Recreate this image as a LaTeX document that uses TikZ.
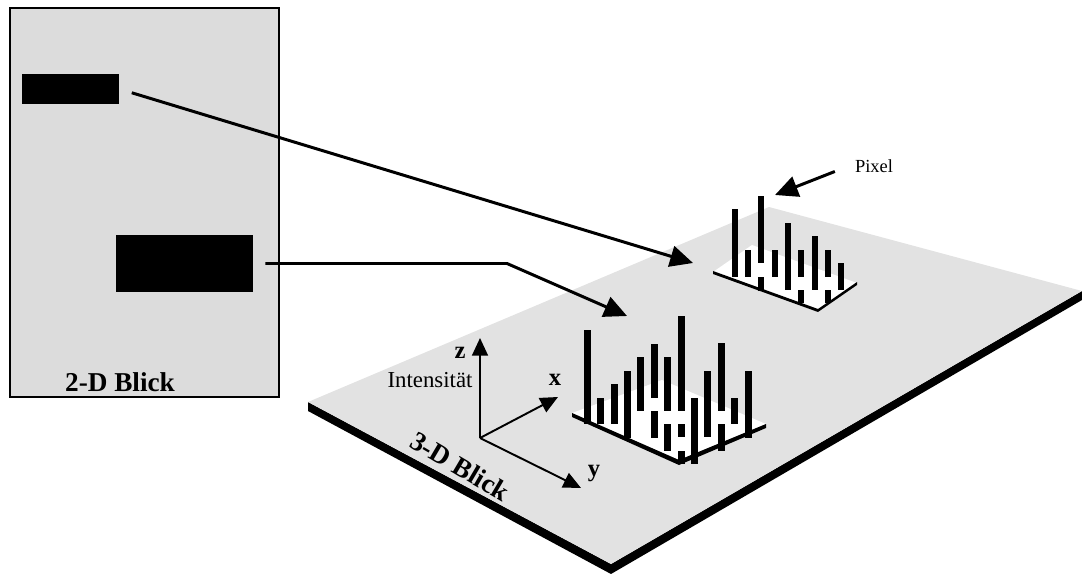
\documentclass[tikz,border=0pt]{standalone}
\usepackage{fontspec}
\setmainfont{Liberation Serif}
\usetikzlibrary{arrows.meta, positioning, calc}
\definecolor{ink}   {HTML}{000000}
\definecolor{panel} {HTML}{DCDCDC}
\definecolor{ground}{HTML}{E2E2E2}

\tikzset{
  conn/.style={ink, line width=1.7pt, -{Triangle[length=13pt,width=12pt]}},
  axis/.style={ink, line width=1.1pt, -{Triangle[length=10pt,width=9pt]}},
  blk/.style={fill=ink, inner sep=0pt},
  big/.style={font=\fontsize{15.5}{17}\selectfont\bfseries},
  lbl/.style={font=\fontsize{13}{15}\selectfont},
}

\begin{document}
\begin{tikzpicture}[x=0.02cm, y=-0.02cm]
    \useasboundingbox (0,0) rectangle (1082,574);

    % flat view
    \node[draw=ink, line width=1.3pt, fill=panel, inner sep=0pt,
          minimum width=5.38cm, minimum height=7.78cm] (view2d) at (144.5,202.5) {};
    \node[blk, minimum width=1.94cm, minimum height=0.6cm]  (nearblk) at (70.5,89) {};
    \node[blk, minimum width=2.74cm, minimum height=1.14cm] (farblk)  at (184.5,263.5) {};
    \node[big] (label2d) at (120,382) {2-D Blick};

    % ground plate with its edge
    \fill[ink]    (308,402) -- (611,564) -- (1082,291) -- (1082,300) -- (611,574) -- (308,411) -- cycle;
    \fill[ground] (308,402) -- (769,207) -- (1082,291) -- (611,564) -- cycle;
    \node[big, rotate=-30.5] (label3d) at (460,466) {3-D Blick};

    % front pixel group
    \fill[white] (572,413) -- (662,380) -- (766,424) -- (679,460) -- cycle;
    \fill[ink]   (572,413) -- (679,460) -- (766,424) -- (766,428) -- (679,465) -- (572,417) -- cycle;
    \foreach \bx/\tp/\bt in {584/330/424, 597/398/424, 611/384/424, 624/371/438,
                             637/357/411, 651/344/398, 651/411/438, 664/357/411,
                             664/424/451, 678/316/411, 678/424/437, 678/451/464,
                             691/398/464, 704/371/437, 718/343/411, 718/424/451,
                             731/398/424, 745/371/438}
        \fill[ink] (\bx,\tp) rectangle (\bx+6.8,\bt);

    % back pixel group
    \fill[white] (713,272) -- (752,245) -- (857,283) -- (818,310) -- cycle;
    \fill[ink]   (713,271) -- (818,309) -- (857,282) -- (857,285) -- (818,312) -- (713,274) -- cycle;
    \foreach \bx/\tp/\bt in {732/209/277, 745/250/277, 758/196/263, 758/277/291,
                             772/250/277, 785/223/290, 798/250/277, 798/290/303,
                             812/236/290, 825/250/277, 825/290/303, 838/263/290}
        \fill[ink] (\bx,\tp) rectangle (\bx+6,\bt);

    % axes
    \coordinate (orig) at (480,438);
    \coordinate (ztip) at (480,338);
    \coordinate (xtip) at (558,397);
    \coordinate (ytip) at (581,488);
    \draw[axis] (orig) -- (ztip);
    \draw[axis] (orig) -- (xtip);
    \draw[axis] (orig) -- (ytip);
    \node[lbl, font=\fontsize{14}{15}\selectfont\bfseries] (zlbl) at (460,353) {z};
    \node[lbl] (intens) at (430,380) {Intensität};
    \node[lbl, font=\fontsize{14}{15}\selectfont\bfseries] (xlbl) at (555,380) {x};
    \node[lbl, font=\fontsize{14}{15}\selectfont\bfseries] (ylbl) at (594,474) {y};

    % connectors
    \coordinate (backtip)  at (693,263);
    \coordinate (knee)     at (507,263.5);
    \coordinate (fronttip) at (627,316);
    \draw[conn, shorten <=0.26cm] (nearblk.east) -- (backtip);
    \draw[conn, shorten <=0.24cm] (farblk.east) -- (knee) -- (fronttip);

    \node[lbl, font=\fontsize{10.5}{12}\selectfont] (pixlbl) at (874,166) {Pixel};
    \coordinate (pixtip) at (775,195);
    \draw[conn, shorten <=0.3cm] (pixlbl.west) -- (pixtip);
  \end{tikzpicture}
\end{document}
